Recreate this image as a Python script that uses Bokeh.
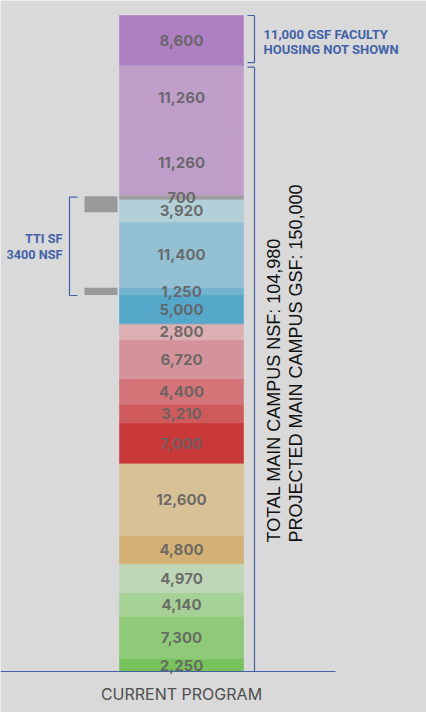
import math
from bokeh.plotting import figure
from bokeh.models import Range1d, ColumnDataSource, Label
from bokeh.embed import file_html
from bokeh.resources import INLINE
from bokeh.core.properties import value

# ---------------- data ----------------
category = "CURRENT PROGRAM"
values = [2250, 7300, 4140, 4970, 4800, 12600, 7000, 3210, 4400, 6720,
          2800, 5000, 1250, 11400, 3920, 700, 11260, 11260, 8600]
colors = ["#78c35b", "#8fca78", "#a6d196", "#bfd6b7", "#d3b074", "#d8c196",
          "#c93838", "#cf5a5c", "#d47478", "#d4939a", "#dcafb2", "#56a8cb",
          "#72b3cf", "#93c1d3", "#b3d0d9", "#9e9e9e", "#bf9fca", "#bf9fca",
          "#ae80c2"]
total_nsf = 104980
projected_gsf = 150000
faculty_gsf = 11000
tti_nsf = 3400
tti_marks = [(79500, 82300), (65190, 66440)]   # NSF extents of TTI markers

# ---------------- layout ----------------
OFF = 0
W, H = 426, 712
BASE_Y = 671          # page px of the baseline
TOP_Y = 15            # page px of the top of the stack
grand = sum(values)
K = (BASE_Y - TOP_Y) / grand
BAR_X, BAR_W = 181, 124
BG = "#d9d9d9"
BLUE = "#4262a8"

def v_of(page_y):
    return (BASE_Y - page_y) / K

p = figure(width=W, height=H, output_backend="svg", toolbar_location=None,
           x_range=Range1d(OFF, OFF + W),
           y_range=Range1d(v_of(OFF + H), v_of(OFF)),
           x_axis_location=None, y_axis_location=None, min_border=0)
p.background_fill_color = BG
p.border_fill_color = BG
p.outline_line_color = None
p.grid.visible = False

bottoms, tops = [], []
acc = 0
for v in values:
    bottoms.append(acc)
    acc += v
    tops.append(acc)
src = ColumnDataSource(dict(bottom=bottoms, top=tops, color=colors,
                            mid=[(b + t) / 2 for b, t in zip(bottoms, tops)],
                            label=[f"{v:,}" for v in values]))

p.vbar(x=BAR_X, width=BAR_W, bottom="bottom", top="top", fill_color="color",
       line_color="color", line_width=0.6, source=src)
p.text(x=BAR_X, y="mid", text="label", source=src, text_align="center",
       text_baseline="middle", text_font=value("Inter"), text_font_style="bold",
       text_font_size="15px", text_color="#636363", text_alpha=0.92)

# baseline
p.segment(x0=OFF, y0=0, x1=335, y1=0, line_color=BLUE, line_width=1.2)

# TTI markers
p.quad(left=84, right=117, bottom=[m[0] for m in tti_marks],
       top=[m[1] for m in tti_marks], fill_color="#999999", line_color=None)

# brackets
gap = 2 / K
nsf_top = total_nsf - gap
fac_bot = total_nsf + 2.5 / K
xs = [[254, 254], [247, 254], [247, 254],
      [254, 254], [247, 254], [247, 254],
      [69, 69], [69, 77], [69, 77]]
tti_lo = tti_marks[1][0] - 0.5 / K
tti_hi = tti_marks[0][1] - 1 / K
ys = [[0, nsf_top], [0, 0], [nsf_top, nsf_top],
      [fac_bot, grand], [fac_bot, fac_bot], [grand, grand],
      [tti_lo, tti_hi], [tti_lo, tti_lo], [tti_hi, tti_hi]]
p.multi_line(xs=xs, ys=ys, line_color=BLUE, line_width=1.2)

def add(text, x, y, **kw):
    p.add_layout(Label(x=x, y=y, text=text, **kw))

# faculty housing note
for i, t in enumerate([f"{faculty_gsf:,} GSF FACULTY", "HOUSING NOT SHOWN"]):
    add(t, 263, v_of(34 + 15 * i), text_font="Roboto", text_font_style="bold",
        text_font_size="13px", text_color=BLUE, text_baseline="middle")

# TTI note
for i, t in enumerate(["TTI SF", f"{tti_nsf} NSF"]):
    add(t, 62, v_of(238 + 16 * i), text_font="Roboto", text_font_style="bold",
        text_font_size="12.7px", text_color=BLUE, text_baseline="middle",
        text_align="right")

# vertical totals
add(f"TOTAL MAIN CAMPUS NSF: {total_nsf:,}", 273, v_of(542), angle=math.pi / 2,
    text_font="Liberation Sans", text_font_size="18px", text_color="#111111",
    text_baseline="middle", text_align="left")
add(f"PROJECTED MAIN CAMPUS GSF: {projected_gsf:,}", 295, v_of(542), angle=math.pi / 2,
    text_font="Liberation Sans", text_font_size="18px", text_color="#111111",
    text_baseline="middle", text_align="left")

# category label
add(category, BAR_X, v_of(693), text_font="Inter", text_font_size="16px",
    text_color="#4f4f4f", text_baseline="middle", text_align="center")

open("out.html", "w").write(file_html(p, INLINE))
